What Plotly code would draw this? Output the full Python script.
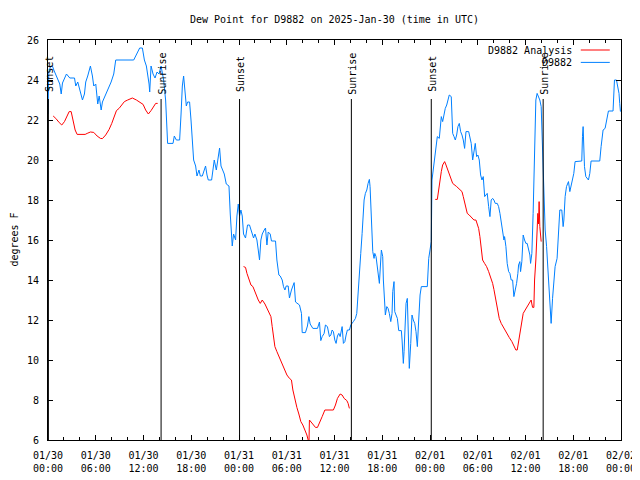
import plotly.graph_objects as go

# ---- data ----
obs_hours = [0.0, 0.1, 0.31, 0.56, 0.73, 1.07, 1.48, 1.66, 1.82, 2.32, 2.74, 3.33, 3.49, 3.74, 3.99, 4.33, 4.58, 4.74, 4.99,
             5.33, 5.58, 5.75, 6.00, 6.25, 6.43, 6.68, 6.84, 7.18, 7.43, 7.93, 8.26, 8.51, 10.77, 11.19, 11.52, 11.86,
             12.11, 12.36, 12.52, 12.70, 12.78, 12.95, 13.20, 13.45, 13.70, 13.95, 14.21, 14.53, 14.78, 14.96, 15.03,
             15.71, 15.87, 16.13, 16.54, 16.72, 16.88, 17.04, 17.22, 17.38, 17.54, 17.79, 17.97, 18.13, 18.30, 18.55,
             18.72, 18.97, 19.14, 19.39, 19.64, 19.80, 19.98, 20.14, 20.56, 20.73, 20.89, 21.15, 21.40, 21.56, 21.74,
             21.90, 22.15, 22.40, 22.74, 22.90, 23.07, 23.15, 23.32, 23.57, 23.74, 23.91, 24.07, 24.24, 24.41, 24.57,
             24.82, 25.07, 25.32, 25.57, 25.83, 26.00, 26.25, 26.42, 26.58, 26.75, 26.92, 27.17, 27.33, 27.51, 27.67,
             27.92, 28.08, 28.59, 28.76, 29.01, 29.18, 29.43, 29.59, 29.77, 29.93, 30.18, 30.34, 30.59, 30.77, 30.93,
             31.10, 31.35, 31.60, 31.85, 31.94, 32.35, 32.60, 32.78, 32.94, 33.28, 33.86, 34.11, 34.28, 34.45, 34.70,
             34.86, 35.11, 35.36, 35.54, 35.70, 35.86, 36.04, 36.20, 36.37, 36.54, 36.71, 36.96, 37.12, 37.30, 37.46,
             37.62, 37.87, 38.05, 38.37, 38.63, 38.80, 38.96, 39.13, 39.30, 39.47, 39.55, 39.72, 39.88, 40.06, 40.22,
             40.38, 40.47, 40.63, 40.72, 40.81, 40.97, 41.06, 41.22, 41.39, 41.56, 41.64, 41.81, 41.89, 42.06, 42.14,
             42.32, 42.39, 42.57, 42.73, 42.89, 43.07, 43.23, 43.32, 43.48, 43.57, 43.73, 43.90, 44.07, 44.40, 44.49,
             44.57, 44.65, 44.74, 44.90, 44.99, 45.15, 45.24, 45.40, 45.58, 45.74, 45.90, 46.08, 46.24, 46.41, 46.58,
             46.75, 46.91, 47.66, 47.84, 48.00, 48.16, 48.25, 48.41, 48.59, 48.84, 48.92, 49.17, 49.34, 49.42, 49.59,
             49.75, 49.92, 50.10, 50.26, 50.42, 50.67, 50.76, 50.85, 51.02, 51.18, 51.35, 51.51, 51.68, 51.85, 52.02,
             52.18, 52.35, 52.52, 52.86, 53.02, 53.18, 53.36, 53.52, 53.69, 53.86, 54.02, 54.19, 54.36, 54.53, 54.69,
             54.87, 55.03, 55.19, 55.37, 55.53, 55.69, 55.87, 56.03, 56.20, 56.45, 56.62, 56.79, 56.95, 57.12, 57.29,
             57.37, 57.54, 57.70, 57.88, 58.04, 58.20, 58.38, 58.45, 58.54, 58.71, 58.88, 59.04, 59.13, 59.29, 59.38,
             59.54, 59.71, 59.88, 60.05, 60.21, 60.39, 60.55, 60.64, 60.71, 60.80, 60.96, 61.05, 61.14, 61.30, 61.46,
             61.64, 61.80, 61.97, 62.06, 62.14, 62.22, 62.31, 62.47, 62.65, 62.81, 62.97, 63.15, 63.22, 63.40, 63.56,
             63.72, 63.97, 64.06, 64.15, 64.31, 64.56, 64.73, 64.82, 64.98, 65.15, 65.40, 65.57, 65.73, 65.91, 66.07,
             66.23, 67.07, 67.16, 67.24, 67.41, 67.58, 67.91, 68.08, 68.24, 69.33, 69.50, 69.75, 70.00, 70.17, 70.42,
             71.00, 71.18, 71.43, 71.59, 71.75, 71.84, 71.93]
obs_dewpoint = [22.3, 24.4, 24.67, 24.7, 24.5, 24.17, 23.8, 23.3, 23.85, 24.3, 24.1, 24.1, 23.7, 23.9, 23.5, 23.0, 23.3, 23.9, 24.2,
                24.7, 24.2, 23.7, 23.8, 22.8, 23.2, 22.5, 22.9, 23.2, 23.5, 23.9, 24.3, 25.0, 25.0, 25.3, 25.6, 25.6,
                25.0, 24.7, 24.3, 23.8, 23.4, 24.7, 24.3, 24.1, 24.4, 24.3, 24.7, 24.0, 23.0, 21.5, 20.83,
                20.83, 21.2, 21.0, 21.0, 22.3, 23.7, 24.2, 23.2, 22.7, 22.9, 22.9, 22.0, 21.0, 20.0, 19.7,
                19.2, 19.5, 19.2, 19.2, 19.5, 19.7, 19.25, 19.0, 19.0, 19.7, 20.0, 19.5, 20.3, 20.6, 19.7,
                19.5, 19.3, 18.8, 18.7, 17.3, 16.3, 15.7, 16.3, 16.0, 17.2, 17.8, 17.2, 17.5, 17.2, 16.3,
                16.1, 16.75, 16.75, 16.4, 16.1, 16.3, 16.0, 15.5, 15.0, 16.0, 16.3, 16.5, 16.6, 15.75, 16.4,
                16.3, 15.95, 15.95, 15.0, 14.25, 14.2, 14.0, 13.67, 13.5, 13.7, 13.7, 13.1, 13.5, 13.67, 13.87,
                12.9, 12.8, 12.75, 12.33, 11.37, 11.37, 11.7, 12.17, 11.8, 11.58, 11.58, 11.9, 10.97, 11.17, 11.33,
                11.75, 11.67, 11.17, 11.25, 11.5, 11.42, 11.0, 10.83, 11.2, 11.33, 11.17, 11.67, 10.83, 10.92, 11.25,
                11.5, 11.5, 11.75, 11.92, 12.08, 12.33, 13.17, 14.5, 15.33, 16.33, 17.08, 18.0, 18.33, 18.5, 18.83,
                19.03, 18.67, 17.17, 16.17, 15.42, 15.08, 15.33, 15.17, 14.58, 14.17, 13.83, 15.0, 15.5, 15.17, 14.0,
                12.75, 12.25, 12.67, 12.58, 12.33, 11.92, 12.33, 13.42, 13.92, 12.42, 12.25, 12.08, 11.47, 11.47, 11.0,
                10.33, 9.83, 10.42, 12.17, 12.83, 13.08, 12.0, 9.58, 10.83, 12.25, 12.0, 11.83, 11.42, 10.67, 12.0,
                13.25, 13.67, 13.67, 15.08, 15.67, 15.92, 19.0, 19.5, 20.08, 20.83, 21.17, 21.08, 21.83, 22.17, 21.92,
                22.33, 22.58, 22.75, 23.0, 23.25, 23.17, 22.5, 21.33, 21.17, 21.0, 21.25, 21.67, 21.83, 21.42, 21.25,
                21.0, 20.58, 21.42, 21.42, 21.17, 20.83, 20.0, 20.33, 20.83, 20.17, 20.25, 20.0, 19.25, 19.0, 19.17,
                18.17, 18.25, 18.33, 17.67, 17.17, 18.0, 18.08, 18.0, 17.83, 17.83, 17.67, 17.33, 16.83, 16.25, 16.0,
                16.17, 15.67, 14.83, 14.42, 14.33, 14.0, 14.0, 13.5, 13.17, 13.5, 13.83, 14.33, 14.75, 14.92, 14.42,
                14.92, 16.25, 16.0, 15.83, 15.83, 15.58, 15.25, 14.83, 15.17, 15.33, 17.33, 19.0, 21.5, 23.0, 23.33,
                23.17, 23.0, 22.67, 21.5, 20.17, 19.33, 18.5, 16.5, 15.67, 14.5, 13.17, 12.25, 11.83, 13.08, 13.83,
                14.67, 15.08, 15.67, 16.83, 17.5, 17.5, 16.67, 17.0, 18.17, 18.67, 18.92, 18.42, 18.67, 19.0, 19.33,
                19.92, 19.95, 21.17, 21.67, 19.67, 19.17, 19.0, 19.33, 19.95, 19.95, 20.67, 21.5, 21.58, 22.0, 22.45,
                22.45, 24.0, 24.0, 23.58, 23.33, 22.83, 22.42]

ana_hours = [0.65, 0.98, 1.41, 1.73, 2.07, 2.41, 2.66, 2.91, 3.16, 3.41, 3.66, 4.67, 4.92, 5.33, 5.75, 6.17, 6.59, 6.84,
             7.25, 7.68, 8.01, 8.35, 8.60, 8.93, 9.26, 9.60, 10.01, 10.60, 11.11, 11.61, 11.95, 12.27, 12.61, 12.95,
             13.28, 13.53, 13.78, 19.0,
             24.57, 24.82, 25.00, 25.25, 25.50, 25.75, 26.08, 26.42, 26.67, 26.92, 27.26, 27.58, 27.83, 28.01, 28.17,
             28.34, 28.51, 28.76, 29.01, 29.26, 29.52, 29.77, 30.02, 30.34, 30.59, 30.77, 31.02, 31.27, 31.52, 31.77,
             32.02, 32.28, 32.53, 32.69, 32.78, 32.85, 33.10, 33.36, 33.61, 33.86, 34.11, 34.45, 34.79, 35.86, 36.12,
             36.37, 36.71, 36.96, 37.21, 37.55, 37.71, 37.80, 37.87, 43.0,
             48.66, 48.92, 49.09, 49.25, 49.42, 49.59, 49.84, 50.01, 50.26, 50.51, 50.67, 50.85, 51.35, 51.77, 52.02,
             52.18, 52.43, 52.68, 52.93, 53.18, 53.52, 53.77, 54.11, 54.27, 54.44, 54.61, 54.86, 55.11, 55.37, 55.62,
             55.87, 56.03, 56.20, 56.37, 56.53, 56.70, 56.95, 57.29, 57.62, 57.95, 58.29, 58.54, 58.79, 58.96, 59.13,
             59.29, 59.46, 59.71, 59.96, 60.21, 60.55, 60.71, 60.80, 60.89, 61.05, 61.14, 61.30, 61.46, 61.55, 61.64,
             61.71, 61.80, 61.89, 61.97]
ana_dewpoint = [22.2, 22.08, 21.87, 21.75, 21.92, 22.2, 22.42, 22.42, 21.92, 21.5, 21.28, 21.28, 21.33, 21.4, 21.38, 21.2, 21.08, 21.07,
                21.25, 21.53, 21.83, 22.25, 22.47, 22.58, 22.75, 22.92, 23.0, 23.1, 23.0, 22.88, 22.78, 22.5, 22.3, 22.47,
                22.7, 22.83, 22.83, None,
                14.67, 14.63, 14.33, 14.08, 13.75, 13.67, 13.33, 13.0, 12.83, 13.0, 12.8, 12.53, 12.33, 12.17, 11.67,
                11.17, 10.67, 10.42, 10.17, 9.92, 9.67, 9.42, 9.25, 9.08, 9.0, 8.5, 8.0, 7.63, 7.3, 6.92,
                6.75, 6.5, 6.25, 6.0, 5.6, 7.0, 6.87, 6.7, 6.63, 6.63, 6.83, 7.17, 7.5, 7.5, 7.75,
                8.08, 8.3, 8.25, 8.08, 7.97, 7.83, 7.58, 7.58, None,
                18.03, 18.03, 18.5, 19.0, 19.42, 19.75, 19.92, 19.75, 19.5, 19.25, 19.0, 18.83, 18.67, 18.5, 18.42,
                18.17, 17.75, 17.33, 17.25, 17.13, 17.0, 17.0, 16.58, 16.17, 15.58, 15.0, 14.83, 14.67, 14.42, 14.17,
                13.83, 13.53, 13.17, 12.83, 12.5, 12.08, 11.83, 11.58, 11.33, 11.13, 10.92, 10.67, 10.5, 10.5, 10.92,
                11.42, 11.83, 12.33, 12.5, 12.67, 12.92, 13.0, 12.8, 12.63, 12.63, 14.0, 15.0, 16.33, 17.33, 16.8,
                17.92, 16.67, 16.17, 15.92]

sun_hours = [0.05, 14.21, 24.07, 38.12, 48.16, 62.22]
sun_labels = ["Sunset", "Sunrise", "Sunset", "Sunrise", "Sunset", "Sunrise"]

tick_hours = [0, 6, 12, 18, 24, 30, 36, 42, 48, 54, 60, 66, 72]
tick_labels = ["01/30<br>00:00", "01/30<br>06:00", "01/30<br>12:00", "01/30<br>18:00",
               "01/31<br>00:00", "01/31<br>06:00", "01/31<br>12:00", "01/31<br>18:00",
               "02/01<br>00:00", "02/01<br>06:00", "02/01<br>12:00", "02/01<br>18:00",
               "02/02<br>00:00"]

series_names = ["D9882 Analysis", "D9882"]
series_colors = ["#ff0000", "#0080ff"]

FONT = "DejaVu Sans Mono"

fig = go.Figure()
fig.add_trace(go.Scatter(x=ana_hours, y=ana_dewpoint, mode="lines", name=series_names[0],
                         line=dict(color=series_colors[0], width=1), connectgaps=False))
fig.add_trace(go.Scatter(x=obs_hours, y=obs_dewpoint, mode="lines", name=series_names[1],
                         line=dict(color=series_colors[1], width=1)))

shapes = []
annotations = []
for h, lab in zip(sun_hours, sun_labels):
    shapes.append(dict(type="line", xref="x", yref="paper", x0=h, x1=h, y0=0, y1=0.8525,
                       line=dict(color="black", width=1)))
    annotations.append(dict(x=h, xref="x", y=0.915, yref="paper", text=lab, textangle=-90,
                            xanchor="center", yanchor="middle",
                            showarrow=False, xshift=1.5, font=dict(family=FONT, size=10, color="black")))

# gnuplot-style key (text then line sample)
key_y = [0.975, 0.944]
for name, col, ky in zip(series_names, series_colors, key_y):
    annotations.append(dict(x=0.9176, xref="paper", y=ky, yref="paper", text=name, xanchor="right",
                            yanchor="middle",
                            showarrow=False, font=dict(family=FONT, size=10, color="black")))
    shapes.append(dict(type="line", xref="paper", yref="paper", x0=0.9298, x1=0.9804, y0=ky, y1=ky,
                       line=dict(color=col, width=1)))

annotations.append(dict(x=0.5, xref="paper", y=1.0525, yref="paper", text="Dew Point for D9882 on 2025-Jan-30 (time in UTC)",
                        xanchor="center", yanchor="middle",
                        showarrow=False, font=dict(family=FONT, size=10, color="black")))
annotations.append(dict(x=-0.0601, xref="paper", y=0.5, yref="paper", text="degrees F", textangle=-90,
                        xanchor="center", yanchor="middle",
                        showarrow=False, font=dict(family=FONT, size=10, color="black")))

# page body has an 8px default margin, compensate so the frame lands at 47.5..621 x 40..440
fig.update_layout(
    width=640, height=480,
    margin=dict(l=39.5, r=26.7, t=32, b=48),
    paper_bgcolor="white", plot_bgcolor="white",
    showlegend=False,
    shapes=shapes, annotations=annotations,
    font=dict(family=FONT, size=10, color="black"),
)
fig.update_xaxes(range=[0, 72], tickvals=tick_hours, ticktext=tick_labels, ticks="inside", ticklen=5,
                 tickcolor="black", showline=True, linecolor="black", linewidth=1, mirror="ticks",
                 showgrid=False, zeroline=False, automargin=False, ticklabelstandoff=6,
                 minor=dict(dtick=2, tick0=0, ticks="inside", ticklen=3, tickcolor="black", showgrid=False),
                 tickfont=dict(family=FONT, size=10, color="black"))
fig.update_yaxes(range=[6, 26], dtick=2, tick0=6, ticks="inside", ticklen=5, tickcolor="black",
                 showline=True, linecolor="black", linewidth=1, mirror="ticks", showgrid=False, zeroline=False,
                 automargin=False, ticklabelstandoff=6, tickfont=dict(family=FONT, size=10, color="black"))

fig.write_html("out.html")
